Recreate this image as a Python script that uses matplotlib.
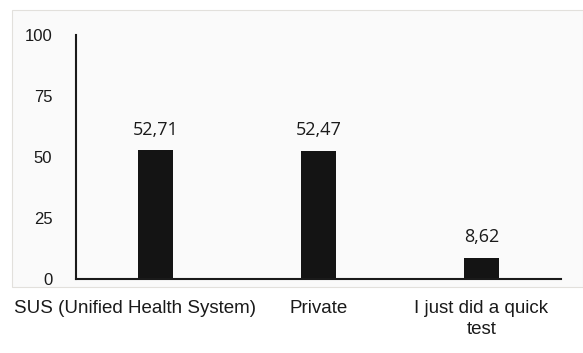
import matplotlib.pyplot as plt
from matplotlib.patches import Rectangle
import matplotlib.transforms as mtransforms

categories = ['SUS (Unified Health System)', 'Private', 'I just did a quick\ntest']
values = [52.71, 52.47, 8.62]
value_labels = ['52,71', '52,47', '8,62']
yticks = [0, 25, 50, 75, 100]

fig = plt.figure(figsize=(5.83, 3.53), dpi=100)
fig.patch.set_facecolor('white')

# light panel with a thin frame, like the source screenshot
fig.patches.append(Rectangle((12 / 583, 66 / 353), 571 / 583, 277 / 353,
                             transform=fig.transFigure, facecolor='#fafafa',
                             edgecolor='#e2e0dc', linewidth=0.8, zorder=-10))

ax = fig.add_axes([76 / 583, 74 / 353, 485 / 583, 244 / 353])
ax.set_facecolor('none')

x = range(len(categories))
ax.bar(x, values, width=0.215, color='#141414', zorder=2)

for xi, v, lab in zip(x, values, value_labels):
    ax.annotate(lab, (xi, v), xytext=(0, 8.5), textcoords='offset points',
                ha='center', va='bottom', fontsize=13, family='Open Sans',
                color='#1a1a1a')

ax.set_xlim(-0.49, 2.49)
ax.set_ylim(0, 100)
ax.set_yticks(yticks)
ax.set_yticklabels([str(t) for t in yticks], family='Liberation Sans',
                   fontsize=12, color='#1a1a1a')
ax.set_xticks(list(x))
ax.set_xticklabels(categories, family='Liberation Sans', fontsize=13.5,
                   color='#1a1a1a', linespacing=1.3)
ax.tick_params(axis='y', length=0, pad=17)
ax.tick_params(axis='x', length=0, pad=15)

# first label sits a bit to the left in the source
lbl = ax.get_xticklabels()[0]
lbl.set_transform(lbl.get_transform() + mtransforms.ScaledTranslation(-21 / 100, 0, fig.dpi_scale_trans))

for s in ['top', 'right']:
    ax.spines[s].set_visible(False)
ax.spines['left'].set_linewidth(1.5)
ax.spines['bottom'].set_linewidth(1.5)
ax.spines['left'].set_color('#1a1a1a')
ax.spines['bottom'].set_color('#1a1a1a')

fig.savefig('out.png', dpi=100)
